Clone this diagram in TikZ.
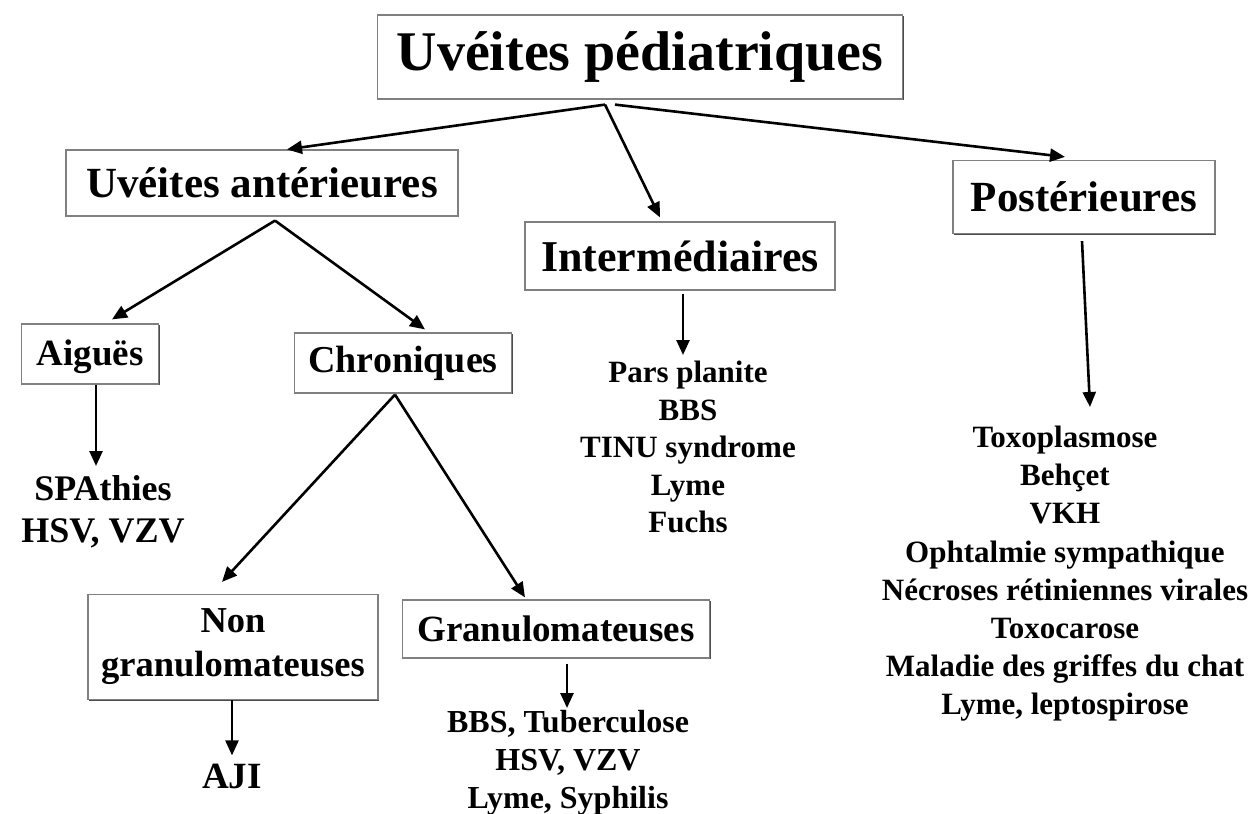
\documentclass[tikz,border=0pt]{standalone}
\usepackage{fontspec}
\setmainfont{Liberation Serif}
\usetikzlibrary{arrows.meta,shadows}
\newcommand{\fs}[2]{\fontsize{#1}{#2}\selectfont\bfseries}
\begin{document}
\begin{tikzpicture}[x=1pt,y=-1pt,
  box/.style={draw=black!50,line width=1.2pt,fill=white,inner sep=0pt,
    drop shadow={shadow xshift=1.3pt,shadow yshift=-1.3pt,fill=black!70,opacity=1}},
  lst/.style={inner sep=0pt,align=center},
  arr/.style={line width=2.6pt,-{Triangle[length=15pt,width=13pt]}}]
\useasboundingbox[fill=white] (0,0) rectangle (1256,814);
% boxes
\node[box,minimum width=525pt,minimum height=84pt,font=\fs{56}{60}] (title) at (640,57) {Uvéites pédiatriques};
\node[box,minimum width=392pt,minimum height=66pt,font=\fs{43}{48}] (ua) at (262,183) {Uvéites antérieures};
\node[box,minimum width=310pt,minimum height=68pt,font=\fs{44}{48}] (int) at (680,256) {Intermédiaires};
\node[box,minimum width=262pt,minimum height=73pt,font=\fs{43}{48}] (post) at (1084,197) {Postérieures};
\node[box,minimum width=137pt,minimum height=60pt,text height=29pt,text depth=7pt,font=\fs{37}{42}] (aig) at (90,354) {Aiguës};
\node[box,minimum width=217pt,minimum height=60pt,font=\fs{38}{42}] (chr) at (403,363) {Chroniques};
\node[box,minimum width=290pt,minimum height=105pt,align=center,font=\fs{36.5}{44}] (non) at (233,647) {Non\\granulomateuses};
\node[box,minimum width=307pt,minimum height=58pt,font=\fs{37}{42}] (gran) at (556,629) {Granulomateuses};
% lists
\node[lst,anchor=north,font=\fs{36}{42}] (spa) at (103,475) {SPAthies\\HSV, VZV};
\node[lst,anchor=base,font=\fs{37}{42}] (aji) at (232,788) {AJI};
\node[lst,anchor=north,font=\fs{32}{38}] (glist) at (568,710) {BBS, Tuberculose\\HSV, VZV\\Lyme, Syphilis};
\node[lst,anchor=north,font=\fs{31}{37.5}] (ilist) at (688,361) {Pars planite\\BBS\\TINU syndrome\\Lyme\\Fuchs};
\node[lst,anchor=north,font=\fs{31}{38.1}] (plist) at (1065,426) {Toxoplasmose\\Behçet\\VKH\\Ophtalmie sympathique\\Nécroses rétiniennes virales\\Toxocarose\\Maladie des griffes du chat\\Lyme, leptospirose};
% connectors
\coordinate (ts) at ([xshift=-35pt,yshift=-5pt]title.south);
\coordinate (ts2) at ([xshift=-25pt,yshift=-5pt]title.south);
\draw[arr] (ts) -- ([xshift=25pt]ua.north);
\draw[arr] (ts) -- ([xshift=-20pt,yshift=4pt]int.north);
\draw[arr] (ts2) -- ([xshift=-19pt,yshift=3pt]post.north);
\coordinate (us) at ([xshift=13pt,yshift=-4pt]ua.south);
\draw[arr] (us) -- ([xshift=22pt,yshift=4pt]aig.north);
\draw[arr] (us) -- ([xshift=22pt,yshift=3pt]chr.north);
\coordinate (a1) at ([xshift=6pt]aig.south);
\coordinate (a2) at (a1 |- spa.north);
\draw[arr] (a1) -- ([yshift=9pt]a2);
\coordinate (cs) at ([xshift=-8pt,yshift=-1pt]chr.south);
\draw[arr] (cs) -- ([xshift=-11pt,yshift=12pt]non.north);
\draw[arr] (cs) -- ([xshift=-31pt,yshift=2pt]gran.north);
\coordinate (n1) at ([xshift=-1pt]non.south);
\coordinate (n2) at (n1 |- aji.north);
\draw[arr] (n1) -- ([yshift=8pt]n2);
\coordinate (g1) at ([xshift=11pt,yshift=-5pt]gran.south);
\coordinate (g2) at (g1 |- glist.north);
\draw[arr] (g1) -- ([yshift=2pt]g2);
\coordinate (i1) at ([xshift=3pt,yshift=-3pt]int.south);
\coordinate (i2) at (i1 |- ilist.north);
\draw[arr] (i1) -- ([yshift=6pt]i2);
\coordinate (p1) at ([xshift=-2pt,yshift=-7pt]post.south);
\draw[arr] (p1) -- ([xshift=25pt,yshift=19pt]plist.north);
\end{tikzpicture}
\end{document}
